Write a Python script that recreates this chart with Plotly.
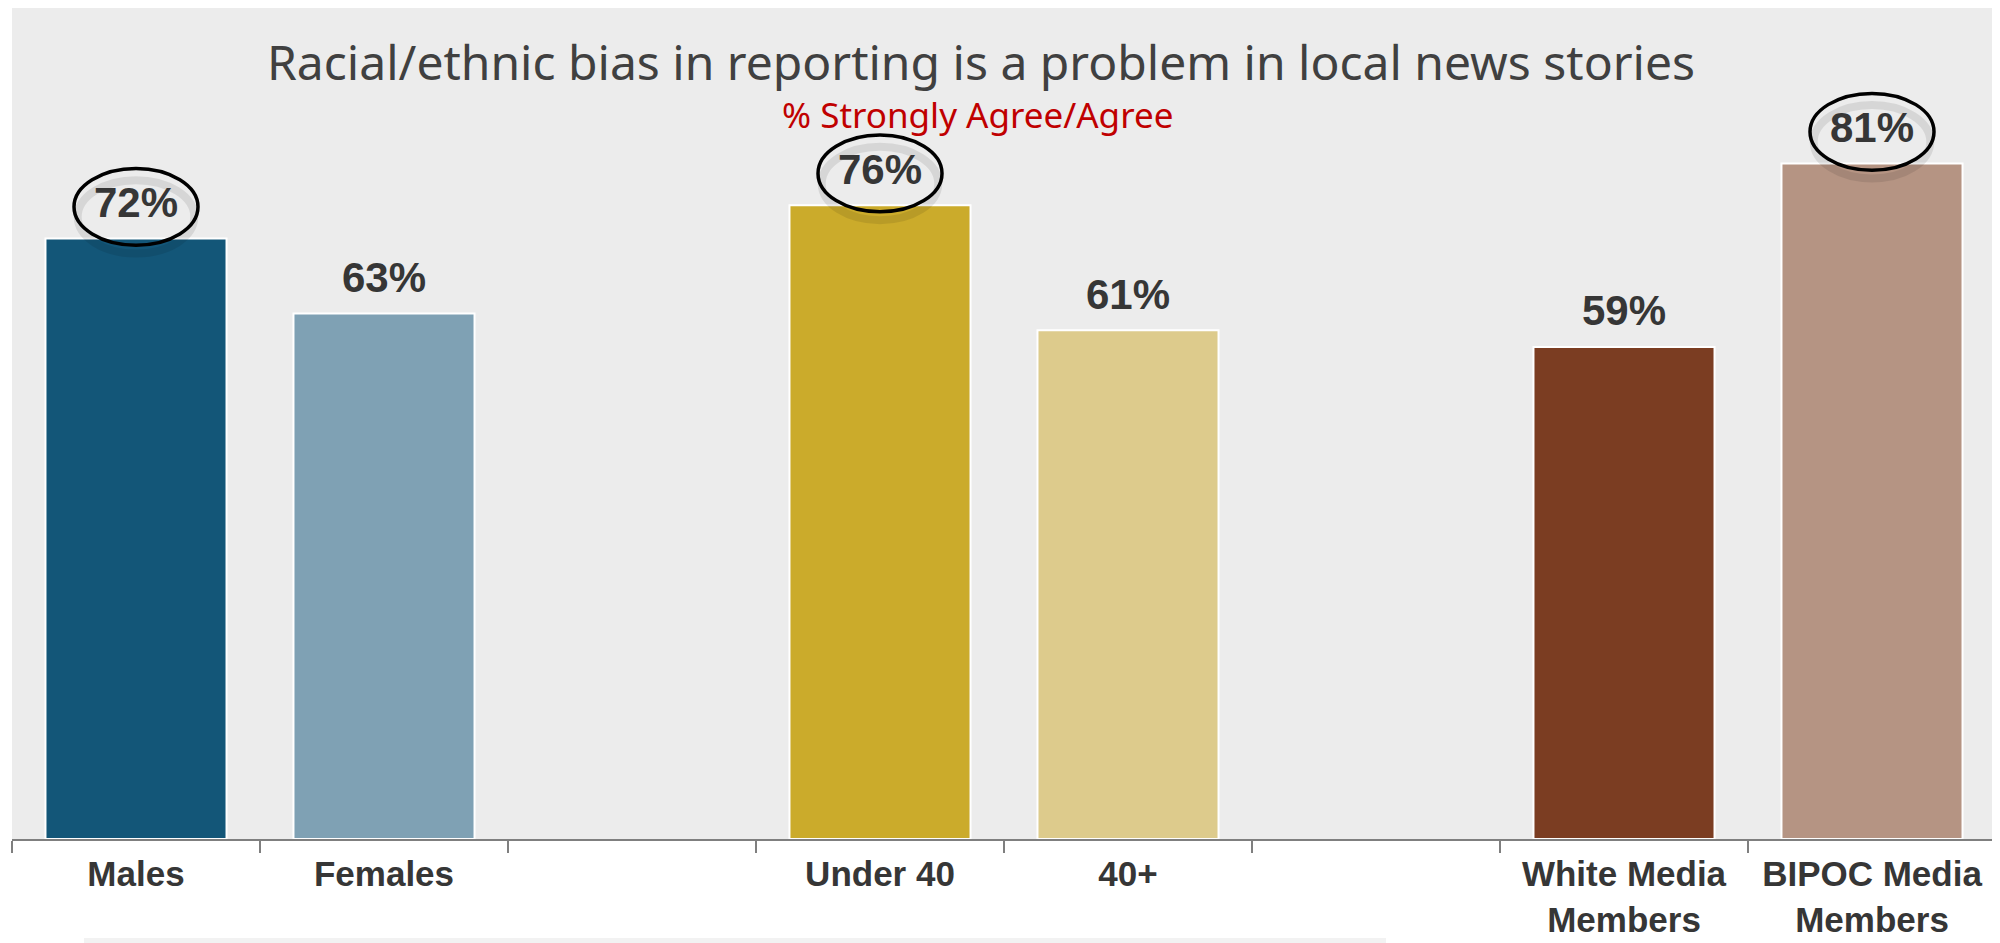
import plotly.graph_objects as go

categories = ["Males", "Females", " ", "Under 40", "40+", "  ",
              "White Media<br>Members", "BIPOC Media<br>Members"]
values = [72, 63, None, 76, 61, None, 59, 81]
labels = ["72%", "63%", "", "76%", "61%", "", "59%", "81%"]
bar_colors = ["#135678", "#7fa1b4", "#ececec", "#cbab2b", "#ddcb8c", "#ececec",
              "#7b3d22", "#b59483"]
circled = [True, False, False, True, False, False, False, True]

title_text = "Racial/ethnic bias in reporting is a problem in local news stories"
subtitle_text = "% Strongly Agree/Agree"

# The page body keeps its default 8px margin, so the figure starts at page (8, 8)
# and is sized to end at the window's right/bottom edge.
OFF = 8
FIG_W, FIG_H = 2000 - OFF, 943 - OFF
M_L, M_R, M_T = 12 - OFF, 4, 0
PLOT_BOTTOM_PAGE = 839
M_B = FIG_H - (PLOT_BOTTOM_PAGE - OFF)
PLOT_H = FIG_H - M_T - M_B
PX_PER_PT = 8.34


def paper_y(page_y):
    return (PLOT_BOTTOM_PAGE - page_y) / PLOT_H


fig = go.Figure()
fig.add_trace(go.Bar(
    x=categories, y=values,
    marker=dict(color=bar_colors, line=dict(color="white", width=2)),
    hoverinfo="skip", showlegend=False,
))

annotations = []
shapes = []
for i, (c, v, lab, circ) in enumerate(zip(categories, values, labels, circled)):
    if v is None:
        continue
    annotations.append(dict(
        x=c, y=v, xref="x", yref="y", text=lab, showarrow=False,
        yanchor="middle", yshift=36,
        font=dict(family="Liberation Sans, Arial, sans-serif", size=42,
                  color="#363636", weight=700),
    ))
    if circ:
        # soft shadow
        shapes.append(dict(
            type="circle", xref="x", yref="y", layer="above",
            x0=i - 0.235, x1=i + 0.235, y0=v - 1.8, y1=v + 7.0,
            line=dict(color="rgba(0,0,0,0.09)", width=8),
        ))
        shapes.append(dict(
            type="circle", xref="x", yref="y", layer="above",
            x0=i - 0.25, x1=i + 0.25, y0=v - 0.8, y1=v + 8.4,
            line=dict(color="#000000", width=3.5),
        ))

# title and subtitle
annotations.append(dict(
    x=0.4885, y=paper_y(61), xref="paper", yref="paper", text=title_text,
    showarrow=False, xanchor="center", yanchor="middle",
    font=dict(family="Noto Sans, sans-serif", size=48, color="#404040"),
))
annotations.append(dict(
    x=0.4865, y=paper_y(115), xref="paper", yref="paper", text=subtitle_text,
    showarrow=False, xanchor="center", yanchor="middle",
    font=dict(family="Noto Sans, sans-serif", size=35, color="#c00000"),
))

# faint strip at the bottom
shapes.append(dict(
    type="rect", xref="paper", yref="paper", layer="below",
    x0=(84 - 12) / 1984, x1=(1386 - 12) / 1984,
    y0=paper_y(943), y1=paper_y(938),
    line=dict(width=0), fillcolor="#f2f2f2",
))

fig.update_layout(
    width=FIG_W, height=FIG_H,
    margin=dict(l=M_L, r=M_R, t=M_T, b=M_B, autoexpand=False),
    paper_bgcolor="white", plot_bgcolor="#ececec",
    bargap=0.27,
    annotations=annotations, shapes=shapes,
    xaxis=dict(
        type="category", automargin=False,
        showline=True, linecolor="#7f7f7f", linewidth=2,
        ticks="outside", ticklen=12, tickcolor="#7f7f7f", tickwidth=1.5,
        tickson="boundaries", showgrid=False, fixedrange=True,
        ticklabelstandoff=3,
        tickfont=dict(family="Liberation Sans, Arial, sans-serif", size=35,
                      color="#363636", weight=700),
    ),
    yaxis=dict(range=[0, PLOT_H / PX_PER_PT], visible=False, showgrid=False,
               zeroline=False, fixedrange=True, automargin=False),
)

fig.write_html("out.html", config={"displayModeBar": False})
